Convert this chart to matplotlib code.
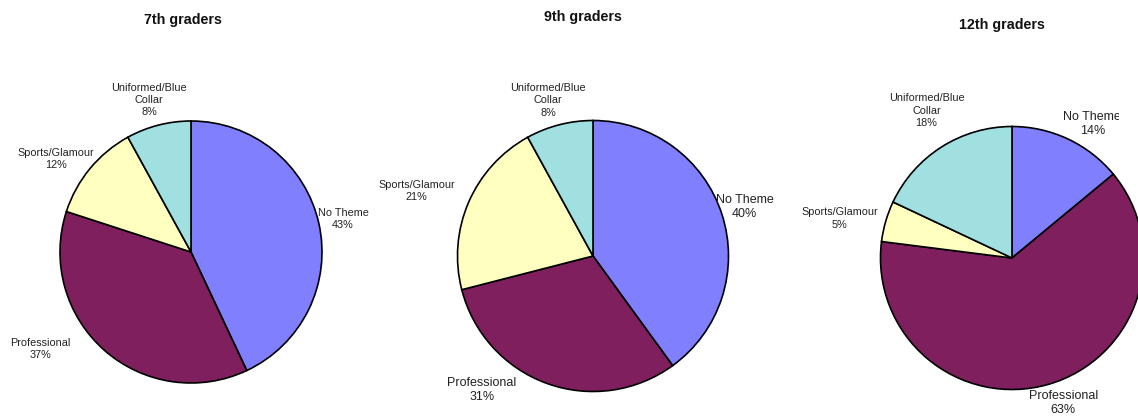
import matplotlib.pyplot as plt
from matplotlib.transforms import Bbox, TransformedBbox

# --- Data ---
categories = ["No Theme", "Professional", "Sports/Glamour", "Uniformed/Blue\nCollar"]
titles = ["7th graders", "9th graders", "12th graders"]
grade7 = [43, 37, 12, 8]
grade9 = [40, 31, 21, 8]
grade12 = [14, 63, 5, 18]

colors = ["#8080FF", "#801F5E", "#FFFFC0", "#A0E0E0"]

# --- Layout (pixels in the 1138x418 canvas) ---
W, H = 1138, 418
PIE_CENTERS = [(191, 252), (593, 256), (1012, 258)]
PIE_RADII = [131, 135.5, 131.5]
TITLE_POS = [(183, 20), (583, 17), (1002, 25)]
# label centres in units of the pie radius (x right, y up)
LABEL_POS = [
    [(1.16, 0.25), (-1.15, -0.74), (-1.03, 0.71), (-0.32, 1.16)],
    [(1.12, 0.36), (-0.82, -0.99), (-1.30, 0.48), (-0.33, 1.15)],
    [(0.61, 1.02), (0.39, -1.10), (-1.31, 0.30), (-0.65, 1.12)],
]
# which labels use the larger font
BIG_LABEL = [
    [False, False, False, False],
    [True, True, False, False],
    [True, True, False, False],
]

plt.rcParams["font.family"] = ["Liberation Sans", "DejaVu Sans"]

fig = plt.figure(figsize=(W / 100, H / 100), dpi=100)

all_values = [grade7, grade9, grade12]
box = 200  # half-size of each axes box in pixels

for i, values in enumerate(all_values):
    cx, cy = PIE_CENTERS[i]
    r = PIE_RADII[i]
    ax = fig.add_axes([(cx - box) / W, 1 - (cy + box) / H, 2 * box / W, 2 * box / H])
    ax.pie(values, colors=colors, startangle=90, counterclock=False,
           wedgeprops=dict(edgecolor="black", linewidth=1.2))
    lim = box / r
    ax.set_xlim(-lim, lim)
    ax.set_ylim(-lim, lim)
    ax.set_aspect("equal")
    ax.axis("off")
    for p in ax.patches:
        p.set_clip_on(False)

    for j, (cat, val) in enumerate(zip(categories, values)):
        lx, ly = LABEL_POS[i][j]
        big = BIG_LABEL[i][j]
        txt = ax.text(lx, ly, f"{cat}\n{val}%", ha="center", va="center",
                      fontsize=9 if big else 7.8,
                      linespacing=1.2 if big else 1.3, color="#222222")
        if i == 2 and j == 0:
            # the original chart cuts this label at its right edge
            clip = TransformedBbox(Bbox([[0, 0], [1119 / W, 1]]), fig.transFigure)
            txt.set_clip_box(clip)
            txt.set_clip_on(True)
        else:
            txt.set_clip_on(False)

    tx, ty = TITLE_POS[i]
    fig.text(tx / W, 1 - ty / H, titles[i], ha="center", va="center",
             fontsize=10.3, fontweight="bold", color="#111111")

fig.savefig("out.png", dpi=100)
